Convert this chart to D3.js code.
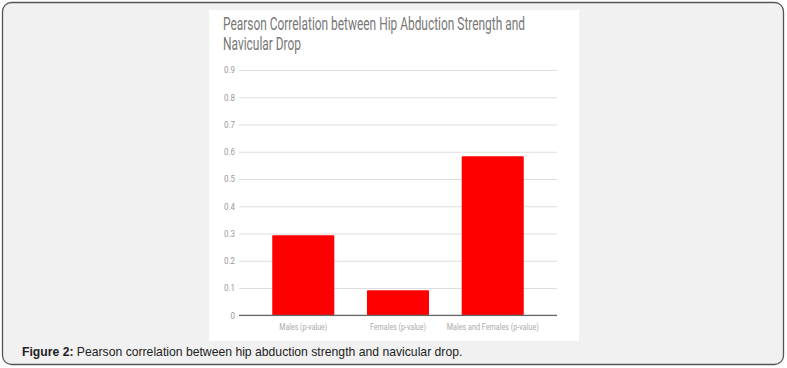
<!DOCTYPE html>
<html>
<head>
<meta charset="utf-8">
<script src="https://cdn.jsdelivr.net/npm/d3@7"></script>
<style>
	body { margin: 0; background: #fff; }
	svg { display: block; }
</style>
</head>
<body>
<svg id="svg" width="787" height="368"></svg>
<script>
// data
var categories = ["Males (p-value)", "Females (p-value)", "Males and Females (p-value)"];
var values = [0.294, 0.092, 0.584];
var yTicks = [0, 0.1, 0.2, 0.3, 0.4, 0.5, 0.6, 0.7, 0.8, 0.9];
var titleLines = ["Pearson Correlation between Hip Abduction Strength and", "Navicular Drop"];

function draw(){
	var svg = d3.select("#svg");

	// outer figure box
	svg.append("rect")
		.attr("x", 2.5).attr("y", 2.5)
		.attr("width", 781).attr("height", 362)
		.attr("rx", 9)
		.attr("fill", "#f1f1f1")
		.attr("stroke", "#555")
		.attr("stroke-width", 1.3);

	// white chart panel
	svg.append("rect")
		.attr("x", 209).attr("y", 10)
		.attr("width", 370).attr("height", 331)
		.attr("fill", "#fff");

	// title (condensed look via textLength)
	var tw = [302, 78];
	svg.selectAll(".title")
		.data(titleLines)
		.enter()
		.append("text")
		.attr("x", 223)
		.attr("y", function(d, i) { return 30 + i * 20; })
		.attr("textLength", function(d, i) { return tw[i]; })
		.attr("lengthAdjust", "spacingAndGlyphs")
		.attr("font-family", "Roboto")
		.attr("font-size", 17.5)
		.attr("fill", "#777")
		.text(function(d) { return d; });

	var scaleY = d3.scaleLinear().domain([0, 0.9]).range([315.3, 70]);
	var scaleX = d3.scaleBand()
		.domain(categories)
		.range([239, 557])
		.paddingInner(0.345)
		.paddingOuter(0.351);

	// gridlines + y labels
	var axisY = d3.axisLeft(scaleY)
		.tickValues(yTicks)
		.tickSize(-318)
		.tickPadding(4)
		.tickFormat(function(d) { return d === 0 ? "0" : d3.format(".1f")(d); });
	var gAxisY = svg.append("g").attr("transform", "translate(239,0)");
	gAxisY.call(axisY);
	gAxisY.select(".domain").remove();
	gAxisY.selectAll(".tick line").attr("stroke", "#ddd").attr("stroke-width", 1);
	gAxisY.selectAll(".tick text")
		.attr("x", -4)
		.attr("font-family", "Roboto")
		.attr("font-size", 9)
		.attr("fill", "#999")
		.attr("textLength", function(d) { return d === 0 ? 4.5 : 11; })
		.attr("lengthAdjust", "spacingAndGlyphs");

	// bars
	svg.selectAll(".bar")
		.data(values)
		.enter()
		.append("rect")
		.attr("x", function(d, i) { return scaleX(categories[i]); })
		.attr("y", function(d) { return scaleY(d); })
		.attr("width", scaleX.bandwidth())
		.attr("height", function(d) { return scaleY(0) - scaleY(d); })
		.attr("rx", 1)
		.attr("fill", "#ff0000");

	// baseline
	svg.append("line")
		.attr("x1", 239).attr("x2", 557)
		.attr("y1", scaleY(0)).attr("y2", scaleY(0))
		.attr("stroke", "#666").attr("stroke-width", 1.2);

	// x labels
	var axisX = d3.axisBottom(scaleX).tickSize(0).tickPadding(8);
	var gAxisX = svg.append("g").attr("transform", "translate(0," + scaleY(0) + ")");
	gAxisX.call(axisX);
	gAxisX.select(".domain").remove();
	var lw = [48, 56, 92];
	gAxisX.selectAll(".tick text")
		.attr("font-family", "Roboto")
		.attr("font-size", 9)
		.attr("fill", "#aaa")
		.attr("textLength", function(d, i) { return lw[i]; })
		.attr("lengthAdjust", "spacingAndGlyphs");

	// caption
	var cap = svg.append("text")
		.attr("x", 22)
		.attr("y", 356)
		.attr("font-family", "Liberation Sans, Arial, sans-serif")
		.attr("font-size", 12.2)
		.attr("fill", "#222");
	cap.append("tspan").attr("font-weight", "bold").text("Figure 2:");
	cap.append("tspan").text(" Pearson correlation between hip abduction strength and navicular drop.");
}
draw();
</script>
</body>
</html>
